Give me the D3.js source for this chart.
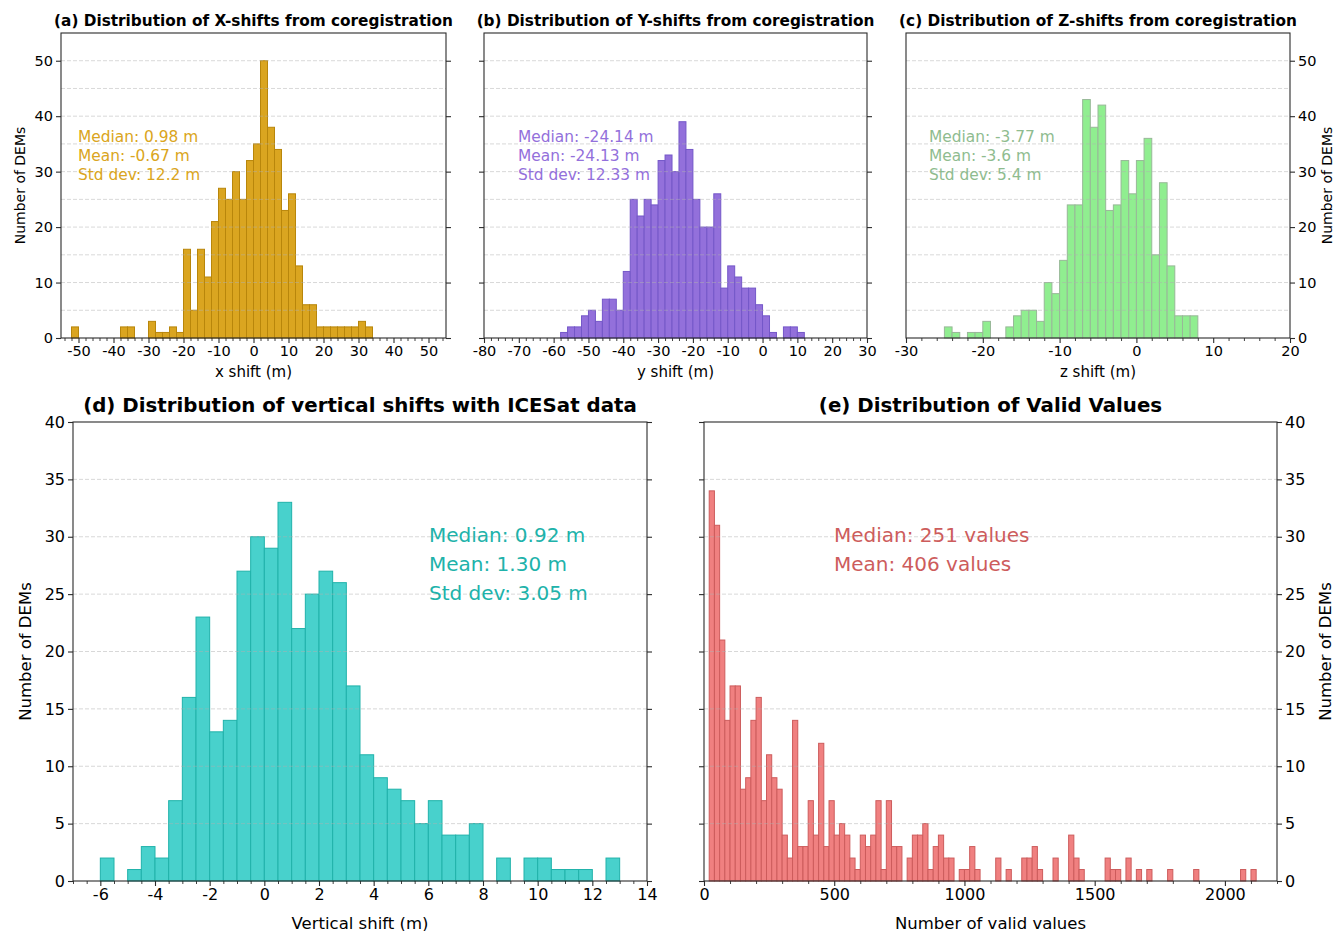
<!DOCTYPE html>
<html>
<head>
<meta charset="utf-8">
<script src="https://cdn.jsdelivr.net/npm/d3@7"></script>
<style>
  body { margin: 0; background: #ffffff; }
  svg { display: block; font-family: "DejaVu Sans", sans-serif; }
</style>
</head>
<body>
<svg id="fig" width="1336" height="931"></svg>
<script>
// ---------------- data: histogram counts per bin ----------------
// (a) X-shifts from coregistration, bins of 2 m starting at -52 m
const xShiftBinStart = -52;
const xShiftBinWidth = 2;
const xShiftCounts = [2, 0, 0, 0, 0, 0, 0, 2, 2, 0, 0, 3, 1, 1, 2, 1,
  16, 5, 16, 11, 21, 27, 25, 30, 25, 32, 35, 50, 38, 34, 23, 26, 13, 6, 6,
  2, 2, 2, 2, 2, 2, 3, 2];

// (b) Y-shifts from coregistration, bins of 2 m starting at -58 m
const yShiftBinStart = -58;
const yShiftBinWidth = 2;
const yShiftCounts = [1, 2, 2, 4, 5, 3, 7, 7, 5, 12, 25, 22, 25, 24, 32, 33,
  30, 39, 34, 25, 20, 20, 26, 9, 13, 11, 9, 9, 6, 4, 1, 0, 2, 2, 1];

// (c) Z-shifts from coregistration, bins of 1 m starting at -25 m
const zShiftBinStart = -25;
const zShiftBinWidth = 1;
const zShiftCounts = [2, 1, 0, 1, 1, 3, 0, 0, 2, 4, 5, 5, 3, 10, 8, 14, 24,
  24, 43, 38, 42, 23, 24, 32, 26, 32, 36, 15, 28, 13, 4, 4, 4];

// (d) vertical shifts against ICESat, bins of 0.5 m starting at -6 m
const icesatBinStart = -6;
const icesatBinWidth = 0.5;
const icesatCounts = [2, 0, 1, 3, 2, 7, 16, 23, 13, 14, 27, 30, 29, 33, 22,
  25, 27, 26, 17, 11, 9, 8, 7, 5, 7, 4, 4, 5, 0, 2, 0, 2, 2, 1, 1, 1, 0, 2];

// (e) number of valid values per DEM, bins of 20 starting at 20
const validBinStart = 20;
const validBinWidth = 20;
const validCounts = [34, 31, 21, 14, 17, 17, 8, 9, 14, 16, 7, 11, 9, 8, 4, 2,
  14, 3, 3, 7, 4, 12, 3, 7, 4, 5, 4, 2, 1, 4, 3, 4, 7, 1, 7, 3, 3, 0, 2, 4,
  4, 5, 1, 3, 4, 2, 2, 0, 1, 1, 3, 1, 0, 0, 0, 2, 0, 1, 0, 0, 2, 2, 3, 1,
  0, 0, 2, 0, 0, 4, 2, 1, 0, 0, 0, 0, 2, 1, 1, 0, 2, 0, 1, 0, 1, 0, 0, 0,
  1, 0, 0, 0, 0, 1, 0, 0, 0, 0, 0, 0, 0, 0, 1, 0, 1];

// summary statistics printed inside each panel
const xShiftStats = ["Median: 0.98 m", "Mean: -0.67 m", "Std dev: 12.2 m"];
const yShiftStats = ["Median: -24.14 m", "Mean: -24.13 m", "Std dev: 12.33 m"];
const zShiftStats = ["Median: -3.77 m", "Mean: -3.6 m", "Std dev: 5.4 m"];
const icesatStats = ["Median: 0.92 m", "Mean: 1.30 m", "Std dev: 3.05 m"];
const validStats = ["Median: 251 values", "Mean: 406 values"];

// axis ticks
const xShiftTicks = [-50, -40, -30, -20, -10, 0, 10, 20, 30, 40, 50];
const yShiftTicks = [-80, -70, -60, -50, -40, -30, -20, -10, 0, 10, 20, 30];
const zShiftTicks = [-30, -20, -10, 0, 10, 20];
const icesatTicks = [-6, -4, -2, 0, 2, 4, 6, 8, 10, 12, 14];
const validTicks = [0, 500, 1000, 1500, 2000];
const countTicksTop = [0, 10, 20, 30, 40, 50];
const countTicksBottom = [0, 5, 10, 15, 20, 25, 30, 35, 40];

// ---------------- drawing ----------------
const svg = d3.select("#fig");
const INK = "#2b2b2b";

function minorValues(domain, step, majors) {
  const out = [];
  const s = Math.ceil(domain[0] / step - 1e-9);
  const e = Math.floor(domain[1] / step + 1e-9);
  for (let k = s; k <= e; k++) {
    const v = +(k * step).toFixed(6);
    if (!majors.some(m => Math.abs(m - v) < 1e-9)) out.push(v);
  }
  return out;
}

function styleAxis(sel, fontSize) {
  sel.select(".domain").remove();
  sel.selectAll(".tick line").attr("stroke", INK).attr("stroke-width", 1.1);
  sel.selectAll(".tick text")
    .attr("fill", "#000")
    .style("font-size", fontSize + "px")
    .style("font-family", "'DejaVu Sans', sans-serif");
}

function drawPanel(p) {
  const g = svg.append("g");
  const x = d3.scaleLinear().domain(p.xDomain).range([p.left, p.right]);
  const y = d3.scaleLinear().domain(p.yDomain).range([p.bottom, p.top]);

  // bars
  const bins = p.counts.map((c, i) => ({
    x0: p.binStart + i * p.binWidth,
    x1: p.binStart + (i + 1) * p.binWidth,
    n: c
  })).filter(d => d.n > 0);
  g.append("g").selectAll("rect").data(bins).join("rect")
    .attr("x", d => x(d.x0))
    .attr("width", d => x(d.x1) - x(d.x0))
    .attr("y", d => y(d.n))
    .attr("height", d => y(0) - y(d.n))
    .attr("fill", p.fill)
    .attr("stroke", p.edge)
    .attr("stroke-width", 1);

  // dashed horizontal grid on top of the bars
  g.append("g").selectAll("line").data(p.gridValues).join("line")
    .attr("x1", p.left).attr("x2", p.right)
    .attr("y1", d => y(d)).attr("y2", d => y(d))
    .attr("stroke", "#b0b0b0").attr("stroke-opacity", 0.55)
    .attr("stroke-width", 0.9).attr("stroke-dasharray", "4,2");

  // x axis: major + minor ticks
  const xa = g.append("g").attr("transform", `translate(0,${p.bottom})`)
    .call(d3.axisBottom(x).tickValues(p.xTicks).tickSizeInner(5).tickSizeOuter(0)
      .tickPadding(3).tickFormat(d => String(d)));
  styleAxis(xa, p.tickFont);
  const xm = g.append("g").attr("transform", `translate(0,${p.bottom})`)
    .call(d3.axisBottom(x).tickValues(minorValues(p.xDomain, p.xMinor, p.xTicks))
      .tickSizeInner(3).tickSizeOuter(0).tickFormat(""));
  styleAxis(xm, p.tickFont);
  xm.selectAll(".tick line").attr("stroke-width", 0.9);

  // y axes (left / right), with or without labels
  if (p.yLeft) {
    const ya = g.append("g").attr("transform", `translate(${p.left},0)`)
      .call(d3.axisLeft(y).tickValues(p.yTicks).tickSizeInner(5).tickSizeOuter(0)
        .tickPadding(3).tickFormat(p.yLeft === "labels" ? (d => String(d)) : ""));
    styleAxis(ya, p.tickFont);
  }
  if (p.yRight) {
    const yb = g.append("g").attr("transform", `translate(${p.right},0)`)
      .call(d3.axisRight(y).tickValues(p.yTicks).tickSizeInner(5).tickSizeOuter(0)
        .tickPadding(3).tickFormat(p.yRight === "labels" ? (d => String(d)) : ""));
    styleAxis(yb, p.tickFont);
  }

  // frame
  g.append("rect")
    .attr("x", p.left).attr("y", p.top)
    .attr("width", p.right - p.left).attr("height", p.bottom - p.top)
    .attr("fill", "none").attr("stroke", INK).attr("stroke-width", 1.1);

  // title
  g.append("text")
    .attr("x", (p.left + p.right) / 2).attr("y", p.titleY)
    .attr("text-anchor", "middle").attr("dominant-baseline", "central")
    .style("font-size", p.titleFont + "px").style("font-weight", "bold")
    .attr("fill", "#000").text(p.title);

  // axis labels
  g.append("text")
    .attr("x", (p.left + p.right) / 2).attr("y", p.xLabelY)
    .attr("text-anchor", "middle").attr("dominant-baseline", "central")
    .style("font-size", p.labelFont + "px").attr("fill", "#000").text(p.xLabel);
  if (p.yLabelX !== null) {
    g.append("text")
      .attr("transform", `translate(${p.yLabelX},${(p.top + p.bottom) / 2}) rotate(-90)`)
      .attr("text-anchor", "middle").attr("dominant-baseline", "central")
      .style("font-size", p.yLabelFont + "px").attr("fill", "#000").text("Number of DEMs");
  }

  // statistics block
  g.append("g").selectAll("text").data(p.stats).join("text")
    .attr("x", p.statsX)
    .attr("y", (d, i) => p.statsY + i * p.statsStep)
    .attr("dominant-baseline", "central")
    .style("font-size", p.statsFont + "px")
    .attr("fill", p.statsColor)
    .text(d => d);
}

const topRow = { top: 33, bottom: 338, yDomain: [0, 55], yTicks: countTicksTop,
  gridValues: d3.range(5, 55, 5), tickFont: 14.5, labelFont: 15, yLabelFont: 14,
  titleFont: 15.3, titleY: 21, xLabelY: 372, xMinor: 2,
  statsY: 137, statsStep: 19, statsFont: 15.4 };
const bottomRow = { top: 422, bottom: 881, yDomain: [0, 40], yTicks: countTicksBottom,
  gridValues: d3.range(5, 40, 5), tickFont: 16, labelFont: 16.5, yLabelFont: 16.5,
  titleFont: 19.8, titleY: 405, xLabelY: 923,
  statsY: 535, statsStep: 29, statsFont: 20 };

drawPanel(Object.assign({}, topRow, {
  left: 61, right: 446, xDomain: [-55, 55], xTicks: xShiftTicks,
  binStart: xShiftBinStart, binWidth: xShiftBinWidth, counts: xShiftCounts,
  fill: "#daa520", edge: "#b8860b",
  yLeft: "labels", yRight: "ticks", yLabelX: 20,
  title: "(a) Distribution of X-shifts from coregistration", xLabel: "x shift (m)",
  stats: xShiftStats, statsX: 78, statsColor: "#daa520"
}));

drawPanel(Object.assign({}, topRow, {
  left: 484, right: 867, xDomain: [-80, 30], xTicks: yShiftTicks,
  binStart: yShiftBinStart, binWidth: yShiftBinWidth, counts: yShiftCounts,
  fill: "#9370db", edge: "#7457c8",
  yLeft: "ticks", yRight: "ticks", yLabelX: null,
  title: "(b) Distribution of Y-shifts from coregistration", xLabel: "y shift (m)",
  stats: yShiftStats, statsX: 518, statsColor: "#9370db"
}));

drawPanel(Object.assign({}, topRow, {
  left: 906, right: 1290, xDomain: [-30, 20], xTicks: zShiftTicks,
  binStart: zShiftBinStart, binWidth: zShiftBinWidth, counts: zShiftCounts,
  fill: "#90ee90", edge: "#98b898",
  yLeft: null, yRight: "labels", yLabelX: 1327,
  title: "(c) Distribution of Z-shifts from coregistration", xLabel: "z shift (m)",
  stats: zShiftStats, statsX: 929, statsColor: "#8fbc8f"
}));

drawPanel(Object.assign({}, bottomRow, {
  left: 73, right: 647, xDomain: [-7, 14], xTicks: icesatTicks, xMinor: 0.5,
  binStart: icesatBinStart, binWidth: icesatBinWidth, counts: icesatCounts,
  fill: "#48d1cc", edge: "#20b2aa",
  yLeft: "labels", yRight: "ticks", yLabelX: 25,
  title: "(d) Distribution of vertical shifts with ICESat data", xLabel: "Vertical shift (m)",
  stats: icesatStats, statsX: 429, statsColor: "#20b2aa"
}));

drawPanel(Object.assign({}, bottomRow, {
  left: 704, right: 1277, xDomain: [0, 2200], xTicks: validTicks, xMinor: 100,
  binStart: validBinStart, binWidth: validBinWidth, counts: validCounts,
  fill: "#f08080", edge: "#cd5c5c",
  yLeft: "ticks", yRight: "labels", yLabelX: 1325,
  title: "(e) Distribution of Valid Values", xLabel: "Number of valid values",
  stats: validStats, statsX: 834, statsColor: "#cd5c5c"
}));
</script>
</body>
</html>
